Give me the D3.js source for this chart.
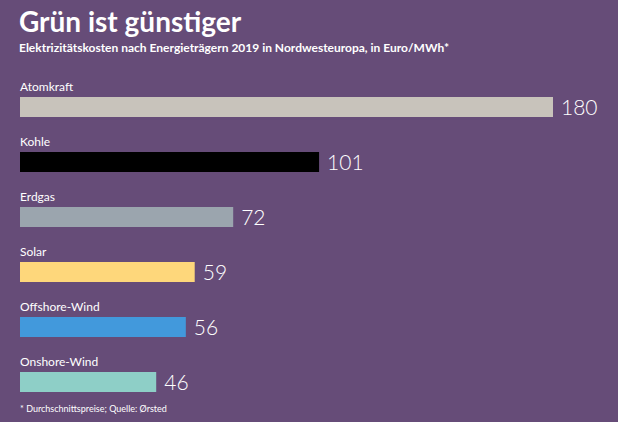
<!DOCTYPE html>
<html><head><meta charset="utf-8">
<script src="https://cdn.jsdelivr.net/npm/d3@7"></script>
<style>body{margin:0;background:#664c78;}svg{display:block;font-family:Lato,"Open Sans",sans-serif;}</style>
</head><body><svg id="c"></svg>
<script>
const categories = ["Atomkraft", "Kohle", "Erdgas", "Solar", "Offshore-Wind", "Onshore-Wind"];
const values = [180, 101, 72, 59, 56, 46];
const colors = ["#c8c3bb", "#000000", "#9ba5ae", "#fed77b", "#4299dc", "#8ecfc7"];

const width = 618, height = 422;
const svg = d3.select("#c").attr("width", width).attr("height", height);
svg.append("rect").attr("width", width).attr("height", height).attr("fill", "#664c78");

// Titles
svg.append("text").attr("x", 19).attr("y", 32).attr("fill", "#fff")
  .style("font-size", "28px").style("font-weight", "bold").text("Grün ist günstiger");
svg.append("text").attr("x", 19).attr("y", 52).attr("fill", "#fff")
  .style("font-size", "12px").style("font-weight", "bold")
  .text("Elektrizitätskosten nach Energieträgern 2019 in Nordwesteuropa, in Euro/MWh*");

const x = d3.scaleLinear().domain([0, 180]).range([20, 553]);
const y = d3.scaleBand().domain(categories).range([80, 410]).paddingInner(0);

const g = svg.selectAll(".row").data(categories).enter().append("g");

g.append("text").attr("x", 20).attr("y", d => y(d) + 11).attr("fill", "#fff")
  .style("font-size", "12px").text(d => d);

g.append("rect").attr("x", x(0)).attr("y", d => y(d) + 17)
  .attr("width", (d, i) => x(values[i]) - x(0)).attr("height", 20)
  .attr("fill", (d, i) => colors[i]);

g.append("text").attr("x", (d, i) => x(values[i]) + 8).attr("y", d => y(d) + 35)
  .attr("fill", "#fff").style("font-size", "21px").style("font-weight", "300")
  .text((d, i) => values[i]);

svg.append("text").attr("x", 20).attr("y", 412).attr("fill", "#fff")
  .style("font-size", "9px").text("* Durchschnittspreise; Quelle: Ørsted");
</script></body></html>
